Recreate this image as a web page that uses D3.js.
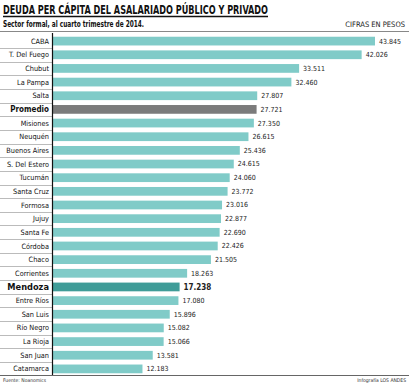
<!DOCTYPE html>
<html>
<head>
<meta charset="utf-8">
<script src="https://cdn.jsdelivr.net/npm/d3@7"></script>
<style>
  body { margin: 0; background: #fff; }
  svg { display: block; font-family: "DejaVu Sans Condensed", "Liberation Sans Narrow", sans-serif; }
</style>
</head>
<body>
<div id="chart"></div>
<script>
const provincias = ['CABA', 'T. Del Fuego', 'Chubut', 'La Pampa', 'Salta', 'Promedio', 'Misiones', 'Neuquén',
    'Buenos Aires', 'S. Del Estero', 'Tucumán', 'Santa Cruz', 'Formosa', 'Jujuy', 'Santa Fe', 'Córdoba',
    'Chaco', 'Corrientes', 'Mendoza', 'Entre Ríos', 'San Luis', 'Río Negro', 'La Rioja', 'San Juan', 'Catamarca'];
const deuda = [43845, 42026, 33511, 32460, 27807, 27721, 27350, 26615, 25436, 24615, 24060, 23772, 23016,
    22877, 22690, 22426, 21505, 18263, 17238, 17080, 15896, 15082, 15066, 13581, 12183];
const etiquetas = ['43.845', '42.026', '33.511', '32.460', '27.807', '27.721', '27.350', '26.615', '25.436',
    '24.615', '24.060', '23.772', '23.016', '22.877', '22.690', '22.426', '21.505', '18.263', '17.238',
    '17.080', '15.896', '15.082', '15.066', '13.581', '12.183'];

const W = 409, H = 384;
const x0 = 53;

const svg = d3.select('#chart').append('svg')
    .attr('width', W)
    .attr('height', H);

// titulo
svg.append('text')
    .attr('x', 3).attr('y', 14)
    .attr('font-size', 12).attr('font-weight', 'bold')
    .attr('fill', '#111')
    .attr('textLength', 265)
    .attr('lengthAdjust', 'spacingAndGlyphs')
    .text('DEUDA PER CÁPITA DEL ASALARIADO PÚBLICO Y PRIVADO');
svg.append('line')
    .attr('x1', 3).attr('x2', 268).attr('y1', 16.5).attr('y2', 16.5)
    .attr('stroke', '#111').attr('stroke-width', 1.3);

svg.append('text')
    .attr('x', 3).attr('y', 27)
    .attr('font-size', 8).attr('font-weight', 'bold')
    .attr('fill', '#111')
    .attr('textLength', 141)
    .attr('lengthAdjust', 'spacingAndGlyphs')
    .text('Sector formal, al cuarto trimestre de 2014.');
svg.append('text')
    .attr('x', 405).attr('y', 27)
    .attr('font-size', 7.5).attr('text-anchor', 'end')
    .attr('fill', '#222')
    .text('CIFRAS EN PESOS');

svg.append('line')
    .attr('x1', 0).attr('x2', W).attr('y1', 31.5).attr('y2', 31.5)
    .attr('stroke', '#888').attr('stroke-width', 1);

const y = d3.scaleBand()
    .domain(provincias)
    .range([34, 376])
    .paddingInner(0.36)
    .paddingOuter(0.2);

const x = d3.scaleLinear()
    .domain([0, 43845])
    .range([x0, 375]);

// separadores de filas
svg.append('g').selectAll('line')
    .data(provincias.slice(1))
    .join('line')
    .attr('x1', 0).attr('x2', x0)
    .attr('y1', function(d) { return Math.round(y(d) - y.step() * y.paddingInner() / 2) + 0.5; })
    .attr('y2', function(d) { return Math.round(y(d) - y.step() * y.paddingInner() / 2) + 0.5; })
    .attr('stroke', '#bbb').attr('stroke-width', 1);

function color(d) {
    if (d === 'Promedio') return '#7b7b7b';
    if (d === 'Mendoza') return '#3f9c98';
    return '#80cbc8';
}

svg.append('g').selectAll('rect')
    .data(provincias)
    .join('rect')
    .attr('x', x0)
    .attr('y', function(d) { return y(d); })
    .attr('width', function(d, i) { return x(deuda[i]) - x0; })
    .attr('height', y.bandwidth())
    .attr('fill', color);

svg.append('g').selectAll('text')
    .data(provincias)
    .join('text')
    .attr('x', 49)
    .attr('y', function(d) { return y(d) + y.bandwidth() / 2; })
    .attr('dy', '0.35em')
    .attr('text-anchor', 'end')
    .attr('font-size', function(d) { return d === 'Mendoza' ? 9.2 : (d === 'Promedio' ? 8 : 7.3); })
    .attr('font-weight', function(d) { return d === 'Mendoza' || d === 'Promedio' ? 'bold' : 'normal'; })
    .attr('fill', '#111')
    .text(function(d) { return d; });

svg.append('g').selectAll('text')
    .data(provincias)
    .join('text')
    .attr('x', function(d, i) { return x(deuda[i]) + 4; })
    .attr('y', function(d) { return y(d) + y.bandwidth() / 2; })
    .attr('dy', '0.35em')
    .attr('font-size', function(d) { return d === 'Mendoza' ? 8 : 7; })
    .attr('font-weight', function(d) { return d === 'Mendoza' ? 'bold' : 'normal'; })
    .attr('fill', '#222')
    .text(function(d, i) { return etiquetas[i]; });

// eje vertical
svg.append('line')
    .attr('x1', x0 - 0.5).attr('x2', x0 - 0.5).attr('y1', 33).attr('y2', 375)
    .attr('stroke', '#111').attr('stroke-width', 1.2);

svg.append('line')
    .attr('x1', 0).attr('x2', W).attr('y1', 375.5).attr('y2', 375.5)
    .attr('stroke', '#666').attr('stroke-width', 1);

svg.append('text')
    .attr('x', 3).attr('y', 382)
    .attr('font-size', 5).attr('fill', '#333')
    .text('Fuente: Noanomics');
svg.append('text')
    .attr('x', 406).attr('y', 382)
    .attr('font-size', 5).attr('text-anchor', 'end').attr('fill', '#333')
    .text('Infografía LOS ANDES');
</script>
</body>
</html>
